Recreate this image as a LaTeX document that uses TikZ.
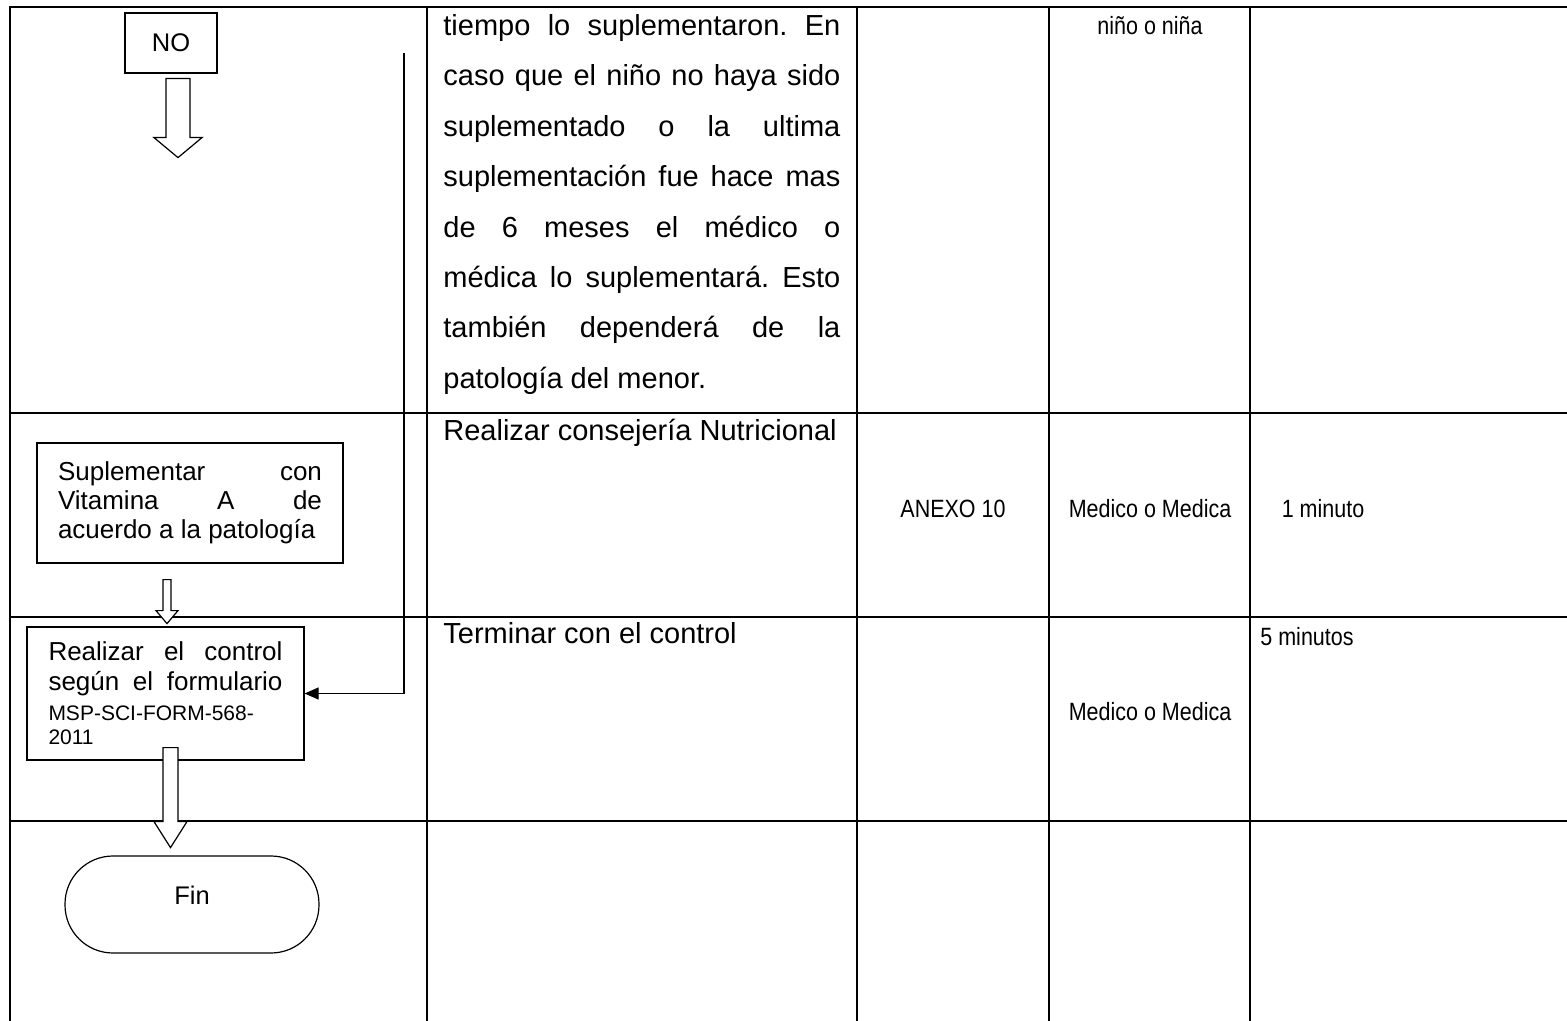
\documentclass[tikz,border=0pt]{standalone}
\usepackage{fontspec}
\usepackage{graphicx}
\setmainfont{Liberation Sans}
\usetikzlibrary{arrows.meta,calc}
\frenchspacing

% hollow block arrow: start, length, shaft half width, head half width, head length
\newcommand{\hollowarrow}[5]{%
  \draw[fat] ($(#1)+(-#3,0)$) -- ++(0,#2-#5) -- ++(#3-#4,0) -- ($(#1)+(0,#2)$)
    -- ($(#1)+(#4,#2-#5)$) -- ++(#3-#4,0) -- ($(#1)+(#3,0)$) -- cycle;}

\begin{document}
\begin{tikzpicture}[
    x=0.5pt, y=-0.5pt,
    grid/.style={line width=1pt},
    box/.style={rectangle, draw, line width=0.6pt},
    endbox/.style={rectangle, draw, line width=0.6pt, rounded corners=24pt, minimum width=127pt, minimum height=48.5pt, text depth=9.5pt, font=\fontsize{12.75}{15}\selectfont},
    cell/.style={inner sep=0pt, font=\fontsize{14.5}{25.2}\selectfont},
    narrow/.style={inner sep=0pt, anchor=base, font=\fontsize{12.5}{15}\selectfont},
    link/.style={line width=0.6pt, -{Triangle[length=7pt,width=6pt]}},
    fat/.style={line width=0.6pt, fill=white}
  ]
    \useasboundingbox (0,0) rectangle (1567,1021);
    % table
    \draw[grid] (10,1021) -- (10,7) -- (1567,7);
    \foreach \x in {427,857,1049,1250}
      \draw[grid] (\x,7) -- (\x,1021);
    \foreach \y in {413,617,821}
      \draw[grid] (10,\y) -- (1567,\y);

    % text cells
    \node[cell, anchor=north west, text width=198.5pt, align=justify] (obs) at (443,14)
      {tiempo lo suplementaron. En\linebreak caso que el niño no haya sido\linebreak suplementado o la ultima\linebreak suplementación fue hace mas\linebreak de 6 meses el médico o\linebreak médica lo suplementará. Esto\linebreak también dependerá de la\linebreak patología del menor.};
    \node[cell, anchor=base west] (consej) at (443,440) {Realizar consejería Nutricional};
    \node[cell, anchor=base west] (termin) at (443,643) {Terminar con el control};
    \node[narrow] (resp1) at (1150,35) {\scalebox{0.86}[1]{niño o niña}};
    \node[narrow] (anexo) at (953,517) {\scalebox{0.86}[1]{ANEXO 10}};
    \node[narrow] (resp2) at (1150,517) {\scalebox{0.86}[1]{Medico o Medica}};
    \node[narrow] (time1) at (1323,517) {\scalebox{0.86}[1]{1 minuto}};
    \node[narrow, anchor=base west] (time2) at (1260,645) {\scalebox{0.86}[1]{5 minutos}};
    \node[narrow] (resp3) at (1150,720) {\scalebox{0.86}[1]{Medico o Medica}};

    % flow
    \node[box, minimum width=46pt, minimum height=30pt, inner sep=0pt, font=\fontsize{12.75}{15}\selectfont] (no) at (171,43) {NO};
    \node[box, text width=132pt, inner xsep=10.5pt, minimum height=60pt, align=justify, font=\fontsize{13}{14.5}\selectfont] (sup) at (190,503)
      {Suplementar con\linebreak Vitamina A de\linebreak acuerdo a la patología};
    \node[box, text width=117pt, inner xsep=10.75pt, minimum height=66.5pt, align=justify, font=\fontsize{13}{15}\selectfont] (rea) at (165.5,693.5)
      {Realizar el control\linebreak según el formulario\linebreak {\fontsize{10.5}{12}\selectfont MSP-SCI-FORM-568-}\\[-3pt]{\fontsize{10.5}{12}\selectfont 2011}};
    \node[endbox] (fin) at (192,904.5) {Fin};

    \coordinate (ctop) at (404,53);
    \draw[link] (ctop) |- (rea.east);

    \coordinate (a1) at ($(no.south)+(7,5)$);
    \coordinate (a2) at ($(sup.south)+(-23,16)$);
    \coordinate (a3) at ($(rea.south)+(5,-13)$);
    \hollowarrow{a1}{79}{12}{24}{20}
    \hollowarrow{a2}{44}{4}{11}{13}
    \hollowarrow{a3}{100}{7.5}{16.5}{26}
  \end{tikzpicture}
\end{document}
